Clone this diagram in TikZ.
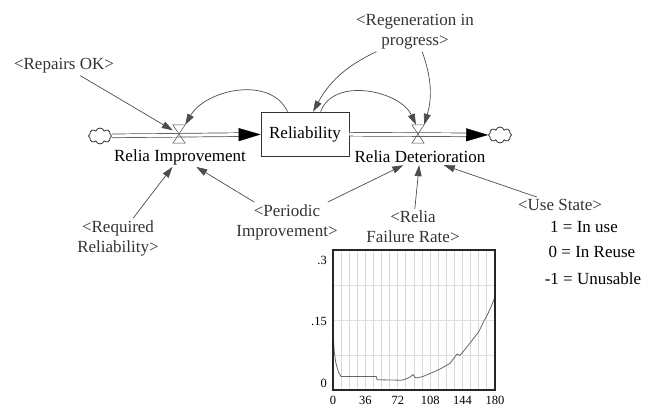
\documentclass[tikz,border=0pt]{standalone}
\usepackage{fontspec}
\setmainfont{Liberation Serif}
\usetikzlibrary{arrows.meta, shapes.symbols}

\begin{document}
\begin{tikzpicture}[x=1pt, y=-1pt]

\tikzset{var/.style = {align=center, inner sep=2pt, font=\fontsize{17}{20}\selectfont}}
\tikzset{shadowvar/.style = {var, text=black!80}}
\tikzset{stock/.style = {var, shape=rectangle, draw=black!80, line width=0.7pt, minimum width=88pt, minimum height=44pt}}
\tikzset{info/.style = {-{Triangle[length=11pt,width=7pt]}, draw=black!70, line width=0.7pt}}
\tikzset{pipe/.style = {draw=black!70, double=white, double distance=3pt, line width=0.7pt, shorten >=20pt}}
\tikzset{pipetip/.style = {-{Triangle[length=22pt,width=13pt,color=black,fill=black]}, draw=white, line width=0.3pt}}
\tikzset{valve/.style = {inner sep=0pt, minimum width=12pt, minimum height=18pt}}
\tikzset{source/.style = {shape=cloud, draw=black!80, line width=0.8pt, cloud puffs=8, minimum width=23pt, minimum height=16pt, inner sep=0pt}}
\tikzset{ticklbl/.style = {inner sep=1pt, font=\fontsize{12.5}{14}\selectfont}}

\useasboundingbox (0,0) rectangle (656,407);

%stock and flows
\node[stock] (rel) at (305,134) {Reliability};
\node[source] (cl1) at (100,136) {};
\node[source] (cl2) at (500,135) {};
\node[valve] (vimp) at (179,134) {};
\node[valve] (vdet) at (418,134) {};
\draw[pipe] (cl1) -- (rel);
\draw[pipetip] (cl1) -- (rel);
\draw[pipe] (rel) -- (cl2);
\draw[pipetip] (rel) -- (cl2);
\draw[black!70, line width=0.5pt] (vimp.north west) -- (vimp.north east) -- (vimp.south west) -- (vimp.south east) -- cycle;
\draw[black!70, line width=0.5pt] (vdet.north west) -- (vdet.north east) -- (vdet.south west) -- (vdet.south east) -- cycle;
\node[var] (imp) at (180,157) {Relia Improvement};
\node[var] (det) at (420,157) {Relia Deterioration};

%variables
\node[shadowvar] (rep) at (64,66) {<Repairs OK>};
\node[shadowvar] (regen) at (415,32) {<Regeneration in\\progress>};
\node[shadowvar] (reqr) at (118,238) {<Required\\Reliability>};
\node[shadowvar] (per) at (287,222) {<Periodic\\Improvement>};
\node[shadowvar] (frate) at (413,227) {<Relia\\Failure Rate>};
\node[shadowvar] (use) at (560,205) {<Use State>};
\node[var] (u1) at (584,227) {1 = In use};
\node[var] (u2) at (592,252) {0 = In Reuse};
\node[var] (u3) at (593,279) {-1 = Unusable};

%links
\draw[info] (rep) -- (vimp);
\draw[info] (rel.128) to[out=115, in=60] (vimp.north east);
\draw[info] (rel.55) to[out=70, in=115] ([xshift=-2pt]vdet.north);
\draw[info] (regen.207) to[bend right=18] (rel.70);
\draw[info] (regen.290) to[bend left=18] (vdet.north east);
\draw[info] (reqr) -- (imp);
\draw[info] (per) -- (imp);
\draw[info] (per) -- (det);
\draw[info] (frate) -- (det);
\draw[info] (use) -- (det);

%graph of failure rate
\begin{scope}[shift={(333,390)}, x=0.9pt, y=466.67pt]
\foreach \t in {9,18,...,171}
  \draw[gray!30, line width=1pt] (\t,0) -- (\t,0.3);
\foreach \v in {0.075,0.15,0.225}
  \draw[gray!25, line width=0.6pt] (0,\v) -- (180,\v);
\draw[black!60, line width=0.8pt] plot coordinates {(0,0.129) (0.5,0.11) (1.5,0.08) (3,0.06) (5,0.045) (7,0.035) (9,0.029)
  (48,0.029) (49,0.022) (76,0.021) (80,0.023) (85,0.027) (89,0.033) (91,0.027) (93,0.026) (100,0.029) (111,0.038)
  (120,0.046) (130,0.057) (137,0.075) (138,0.077) (141,0.074) (148,0.09) (156,0.11) (162,0.125) (167,0.145)
  (172,0.163) (176,0.18) (180,0.2)};
\draw[black!85, line width=1.5pt] (0,0) rectangle (180,0.3);
\foreach \t in {0,36,...,180}
  \node[ticklbl, yshift=-10pt] (xt\t) at (\t,0) {\t};
\node[ticklbl, anchor=east, xshift=-5pt, yshift=-10pt] (ytop) at (0,0.3) {.3};
\node[ticklbl, anchor=east, xshift=-5pt, yshift=-1pt] (ymid) at (0,0.15) {.15};
\node[ticklbl, anchor=east, xshift=-5pt, yshift=7pt] (ybot) at (0,0) {0};
\end{scope}

\end{tikzpicture}
\end{document}
